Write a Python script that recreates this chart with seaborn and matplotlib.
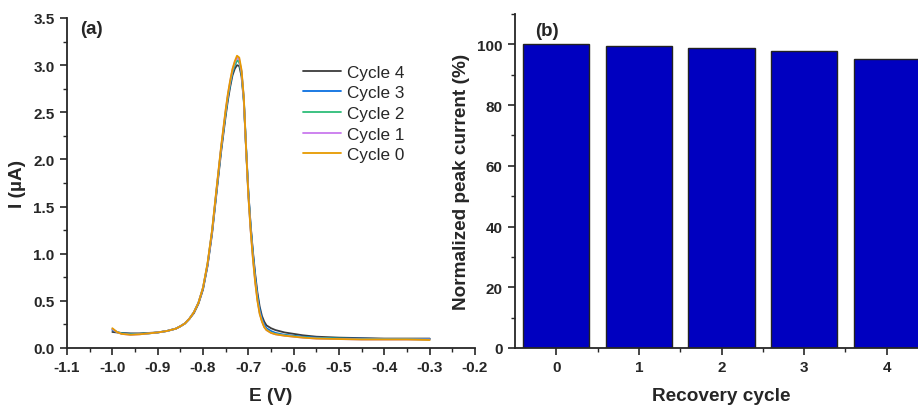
import numpy as np
import pandas as pd
import matplotlib
matplotlib.use("Agg")
import matplotlib.pyplot as plt
import seaborn as sns
from matplotlib.ticker import MultipleLocator

# --- (a) differential pulse voltammograms ---
potential = [-1.00, -0.99, -0.98, -0.96, -0.94, -0.92, -0.90, -0.88, -0.86, -0.85,
             -0.84, -0.83, -0.82, -0.81, -0.80, -0.79, -0.78, -0.77, -0.76, -0.75,
             -0.745, -0.74, -0.735, -0.73, -0.725, -0.72, -0.715, -0.71, -0.705, -0.70,
             -0.695, -0.69, -0.685, -0.68, -0.675, -0.67, -0.665, -0.66, -0.65, -0.64,
             -0.62, -0.60, -0.58, -0.55, -0.50, -0.45, -0.40, -0.35, -0.30]

cycle0 = [0.21, 0.17, 0.15, 0.14, 0.145, 0.155, 0.165, 0.18, 0.205, 0.23,
          0.26, 0.31, 0.38, 0.48, 0.64, 0.90, 1.25, 1.70, 2.14, 2.53,
          2.70, 2.84, 2.96, 3.04, 3.10, 3.08, 2.95, 2.66, 2.12, 1.62,
          1.25, 0.95, 0.70, 0.50, 0.36, 0.28, 0.22, 0.19, 0.16, 0.145,
          0.13, 0.12, 0.11, 0.10, 0.095, 0.09, 0.09, 0.09, 0.085]
cycle1 = [0.20, 0.17, 0.15, 0.14, 0.145, 0.155, 0.165, 0.18, 0.205, 0.23,
          0.26, 0.31, 0.38, 0.48, 0.64, 0.89, 1.24, 1.69, 2.13, 2.52,
          2.69, 2.83, 2.95, 3.03, 3.08, 3.06, 2.93, 2.64, 2.11, 1.62,
          1.25, 0.96, 0.71, 0.51, 0.37, 0.285, 0.225, 0.19, 0.16, 0.145,
          0.13, 0.12, 0.11, 0.10, 0.095, 0.09, 0.09, 0.09, 0.09]
cycle2 = [0.20, 0.17, 0.155, 0.145, 0.15, 0.155, 0.165, 0.18, 0.205, 0.23,
          0.26, 0.31, 0.38, 0.48, 0.64, 0.89, 1.24, 1.68, 2.12, 2.50,
          2.67, 2.81, 2.93, 3.00, 3.05, 3.03, 2.91, 2.63, 2.12, 1.63,
          1.27, 0.98, 0.73, 0.53, 0.38, 0.29, 0.23, 0.195, 0.165, 0.15,
          0.135, 0.125, 0.115, 0.105, 0.10, 0.095, 0.095, 0.095, 0.09]
cycle3 = [0.19, 0.17, 0.155, 0.15, 0.15, 0.155, 0.165, 0.18, 0.205, 0.23,
          0.26, 0.31, 0.38, 0.48, 0.63, 0.88, 1.23, 1.67, 2.11, 2.49,
          2.66, 2.80, 2.92, 3.00, 3.05, 3.04, 2.93, 2.65, 2.14, 1.66,
          1.30, 1.01, 0.76, 0.56, 0.41, 0.31, 0.25, 0.21, 0.18, 0.16,
          0.14, 0.13, 0.12, 0.11, 0.10, 0.10, 0.095, 0.095, 0.095]
cycle4 = [0.17, 0.165, 0.16, 0.155, 0.155, 0.16, 0.165, 0.18, 0.205, 0.23,
          0.26, 0.31, 0.37, 0.47, 0.62, 0.87, 1.21, 1.65, 2.08, 2.46,
          2.63, 2.77, 2.89, 2.96, 3.00, 2.99, 2.88, 2.62, 2.12, 1.66,
          1.31, 1.03, 0.79, 0.59, 0.44, 0.34, 0.28, 0.24, 0.21, 0.19,
          0.165, 0.15, 0.135, 0.12, 0.11, 0.105, 0.10, 0.10, 0.10]

curves = [("Cycle 4", cycle4, "#3c3c3c"),
          ("Cycle 3", cycle3, "#0a6fe0"),
          ("Cycle 2", cycle2, "#2dbd78"),
          ("Cycle 1", cycle1, "#c97aee"),
          ("Cycle 0", cycle0, "#e69a00")]

# --- (b) normalized peak current per recovery cycle ---
recovery_cycle = ["0", "1", "2", "3", "4"]
peak_pct = [100.0, 99.6, 98.8, 97.8, 95.2]

sns.set_style("ticks")
plt.rcParams["font.family"] = ["Liberation Sans", "DejaVu Sans"]
plt.rcParams["axes.unicode_minus"] = False
plt.rcParams["axes.linewidth"] = 1.3

fig = plt.figure(figsize=(9.18, 4.06), dpi=100)
ax1 = fig.add_axes([67 / 918, 57 / 406, 408 / 918, 330 / 406])
ax2 = fig.add_axes([515 / 918, 57 / 406, 413 / 918, 334 / 406])

for name, vals, col in curves:
    sns.lineplot(x=potential, y=vals, color=col, lw=1.3, label=name, ax=ax1,
                 sort=False, estimator=None)

ax1.set_xlim(-1.1, -0.2)
ax1.set_ylim(0, 3.5)
ax1.xaxis.set_major_locator(MultipleLocator(0.1))
ax1.xaxis.set_minor_locator(MultipleLocator(0.05))
ax1.yaxis.set_major_locator(MultipleLocator(0.5))
ax1.yaxis.set_minor_locator(MultipleLocator(0.25))
ax1.xaxis.set_major_formatter(matplotlib.ticker.FormatStrFormatter("%.1f"))
ax1.yaxis.set_major_formatter(matplotlib.ticker.FormatStrFormatter("%.1f"))
ax1.set_xlabel("E (V)", fontsize=13.7, fontweight="bold", labelpad=9)
ax1.set_ylabel("I (µA)", fontsize=13.7, fontweight="bold", labelpad=5)
ax1.text(0.032, 0.967, "(a)", transform=ax1.transAxes, fontsize=13.5,
         fontweight="bold", va="center")
leg = ax1.legend(loc="upper left", bbox_to_anchor=(0.54, 0.905), frameon=False,
                 fontsize=12.3, handlelength=2.25, labelspacing=0.33,
                 handletextpad=0.35)

sns.barplot(x=recovery_cycle, y=peak_pct, color="#0000c0", saturation=1,
            edgecolor="#222222", linewidth=1.0, width=0.8, ax=ax2)
ax2.set_xlim(-0.5, 4.5)
ax2.set_ylim(0, 110)
ax2.yaxis.set_major_locator(MultipleLocator(20))
ax2.yaxis.set_minor_locator(MultipleLocator(10))
ax2.set_xticks(np.arange(0.5, 4.5, 1.0), minor=True)
ax2.set_xlabel("Recovery cycle", fontsize=13.7, fontweight="bold", labelpad=9)
ax2.set_ylabel("Normalized peak current (%)", fontsize=13.7, fontweight="bold",
               labelpad=5)
ax2.text(0.048, 0.952, "(b)", transform=ax2.transAxes, fontsize=13.5,
         fontweight="bold", va="center")

for ax in (ax1, ax2):
    sns.despine(ax=ax)
    ax.tick_params(which="major", direction="out", length=5, width=1.2,
                   labelsize=11, pad=4)
    ax.tick_params(which="minor", direction="out", length=3, width=1.0)
    for lab in ax.get_xticklabels() + ax.get_yticklabels():
        lab.set_fontweight("bold")

fig.savefig("out.png", dpi=100)
